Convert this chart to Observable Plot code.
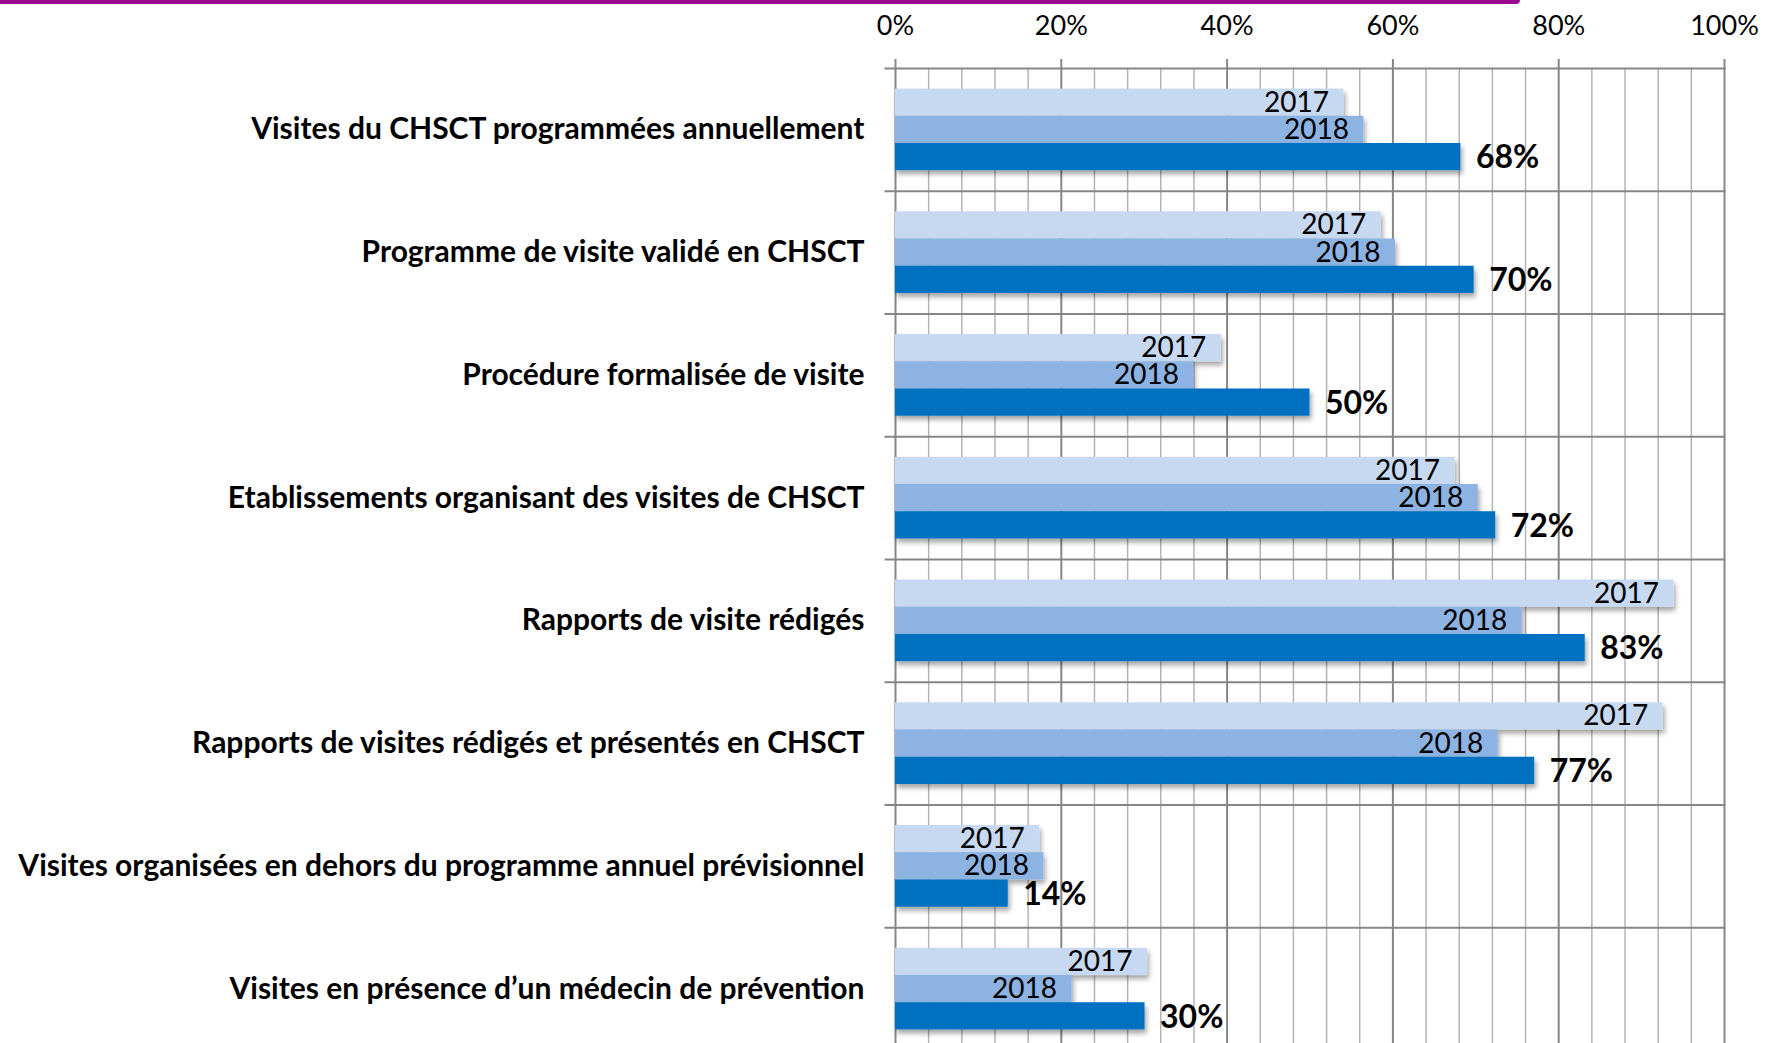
<!DOCTYPE html>
<html><head><meta charset="utf-8">
<script src="https://cdn.jsdelivr.net/npm/d3@7"></script>
<script src="https://cdn.jsdelivr.net/npm/@observablehq/plot@0.6"></script>
<style>
html,body{margin:0;padding:0;background:#fff;}
#wrap{position:relative;width:1765px;height:1043px;overflow:hidden;}
#topbar{position:absolute;left:0;top:0;width:1520px;height:4px;background:#9a0a8e;border-bottom-right-radius:6px;z-index:2}
#chart g[aria-label="bar"] rect{filter:url(#shadow);}
#chart g[aria-label="fy-axis tick label"]{font-weight:bold;}
</style></head><body>
<svg width="0" height="0" style="position:absolute"><defs>
<filter id="shadow" x="-5%" y="-25%" width="115%" height="170%">
<feDropShadow dx="2" dy="4" stdDeviation="2.5" flood-color="#000" flood-opacity="0.35"/>
</filter></defs></svg>
<div id="wrap"><div id="topbar"></div><div id="chart"></div></div>
<script>
const categories = [
  "Visites du CHSCT programmées annuellement",
  "Programme de visite validé en CHSCT",
  "Procédure formalisée de visite",
  "Etablissements organisant des visites de CHSCT",
  "Rapports de visite rédigés",
  "Rapports de visites rédigés et présentés en CHSCT",
  "Visites organisées en dehors du programme annuel prévisionnel",
  "Visites en présence d’un médecin de prévention"
];
const years = ["2017", "2018", "2019"];
const values2017 = [54.1, 58.6, 39.3, 67.5, 93.9, 92.6, 17.4, 30.4];
const values2018 = [56.5, 60.3, 36.0, 70.3, 75.6, 72.7, 17.9, 21.3];
const values2019 = [68.2, 69.8, 50.0, 72.4, 83.2, 77.1, 13.6, 30.1];
const yearColors = ["#c6d9f0", "#8db3e2", "#0070c0"];
const majorTicks = [0, 20, 40, 60, 80, 100];
const minorTicks = [4, 8, 12, 16, 24, 28, 32, 36, 44, 48, 52, 56, 64, 68, 72, 76, 84, 88, 92, 96];

const series = [values2017, values2018, values2019];
const data = categories.flatMap((c, i) => years.map((y, j) => ({category: c, year: y, value: series[j][i]})));

const chart = Plot.plot({
  width: 1765,
  height: 1050,
  marginTop: 68,
  marginLeft: 895,
  marginRight: 41,
  marginBottom: 0,
  style: {fontFamily: "Lato, sans-serif", color: "#000", background: "transparent", overflow: "visible"},
  x: {domain: [0, 100], axis: null},
  y: {domain: years, paddingInner: 0, paddingOuter: 0.755, round: false, axis: null},
  fy: {domain: categories, padding: 0, round: false, axis: null, label: null},
  color: {domain: years, range: yearColors},
  marks: [
    Plot.ruleX(minorTicks, {stroke: "#b4b4b4", strokeWidth: 1.5}),
    Plot.ruleX(majorTicks, {stroke: "#868686", strokeWidth: 2}),
    Plot.frame({anchor: "top", insetLeft: -10, stroke: "#868686", strokeWidth: 2}),
    Plot.axisX(majorTicks, {anchor: "top", tickSize: 10, tickPadding: 24, tickFormat: d => d + "%", fontSize: 27, stroke: "#868686", strokeWidth: 2, fill: "#000", label: null}),
    Plot.axisFy({anchor: "left", tickSize: 0, tickPadding: 31, fontSize: 30, fontWeight: "bold", fill: "#000", label: null}),
    Plot.barX(data, {x: "value", y: "year", fy: "category", fill: "year"}),
    Plot.text(data.filter(d => d.year !== "2019"), {x: "value", y: "year", fy: "category", text: "year", textAnchor: "end", dx: -15, fontSize: 28, fill: "#000"}),
    Plot.text(data.filter(d => d.year === "2019"), {x: "value", y: "year", fy: "category", text: d => Math.round(d.value) + "%", textAnchor: "start", dx: 15, dy: 1, fontSize: 32, fontWeight: "bold", fill: "#000"})
  ]
});
document.getElementById("chart").appendChild(chart);
</script>
</body></html>
